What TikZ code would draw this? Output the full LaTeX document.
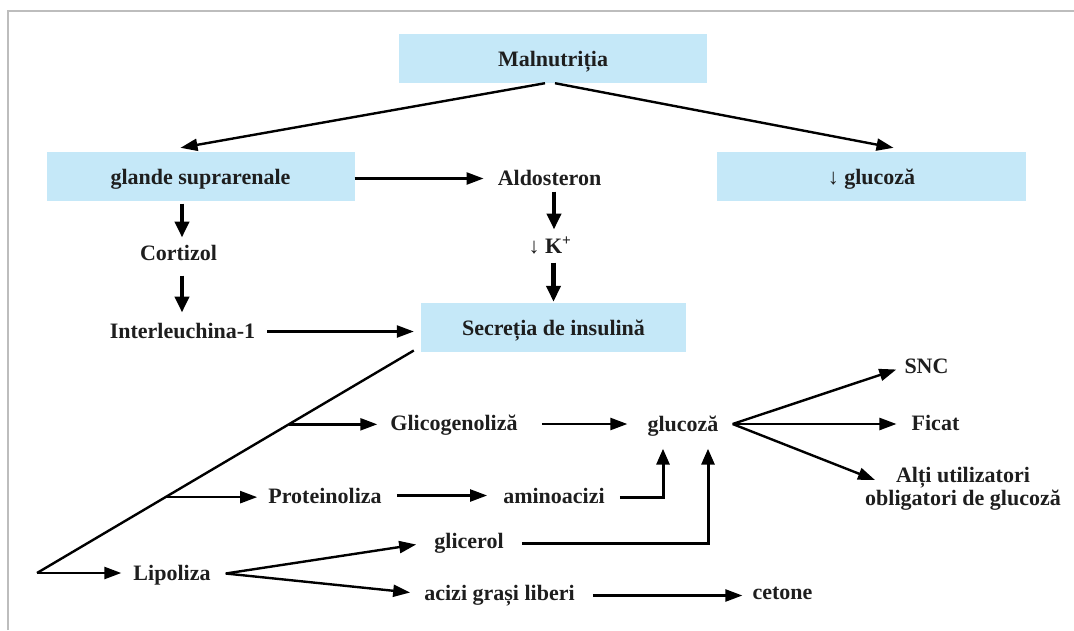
\documentclass[tikz,border=0pt]{standalone}
\usepackage{fontspec}
\setmainfont{Liberation Serif}
\usetikzlibrary{arrows.meta,calc}
\definecolor{boxblue}{HTML}{C5E8F8}
\definecolor{txt}{HTML}{1E1E1E}
\definecolor{framegray}{HTML}{BDBDBD}
\begin{document}
\begin{tikzpicture}[x=1pt,y=-1pt,
  box/.style={fill=boxblue, minimum height=49pt, inner sep=0pt, text=txt,
    text height=16pt, text depth=1pt,
    font=\fontsize{22}{25}\selectfont\bfseries},
  lbl/.style={inner sep=0pt, text=txt, text height=16pt, text depth=1pt,
    font=\fontsize{22}{25}\selectfont\bfseries},
  arr/.style={line width=2.4pt, -{Triangle[length=17pt,width=12pt]}},
  tarr/.style={line width=4.5pt, -{Triangle[length=16pt,width=14pt]}},
  marr/.style={line width=3pt, -{Triangle[length=16pt,width=13pt]}},
  ln/.style={line width=2.4pt}]
\useasboundingbox (0,0) rectangle (1074,630);
\draw[framegray, line width=2pt] (8,630) -- (8,11) -- (1074,11);

% boxes
\node[box, minimum width=308pt] (maln) at (553,58.5) {Malnutriția};
\node[box, minimum width=308pt] (gland) at (200.5,176.5) {glande suprarenale};
\node[box, minimum width=309pt] (gluc0) at (871.5,176.5) {↓ glucoză};
\node[box, minimum width=265pt] (secr) at (553.5,327.5) {Secreția de insulină};

% labels (centre = baseline - 7.5)
\node[lbl] (aldo) at (549.5,177.5) {Aldosteron};
\node[lbl] (kplus) at (550,245.5) {{\mdseries↓} K\textsuperscript{+}};
\node[lbl] (cort) at (178.5,252.5) {Cortizol};
\node[lbl] (inter) at (182.5,330.5) {Interleuchina-1};
\node[lbl] (glico) at (454,422.5) {Glicogenoliză};
\node[lbl] (prot) at (325,495.5) {Proteinoliza};
\node[lbl] (lipo) at (172,572.5) {Lipoliza};
\node[lbl] (amino) at (554,495.5) {aminoacizi};
\node[lbl] (glucoza) at (683,424) {glucoză};
\node[lbl] (glicer) at (469,540.5) {glicerol};
\node[lbl] (acizi) at (499.5,592.5) {acizi grași liberi};
\node[lbl] (cetone) at (782.5,591.5) {cetone};
\node[lbl] (snc) at (926.5,365.5) {SNC};
\node[lbl] (ficat) at (935.5,422.5) {Ficat};
\node[inner sep=0pt, text=txt, align=center, anchor=base,
  font=\fontsize{22}{20}\selectfont\bfseries] (alti) at (963,505)
  {Alți utilizatori\\obligatori de glucoză};

% top arrows
\draw[arr] ($(maln.south)+(-8,0)$) -- ($(gland.north)+(-20,-4)$);
\draw[arr] ($(maln.south)+(2,0)$) -- ($(gluc0.north)+(22,-4)$);
\coordinate (ga) at ($(gland.east)+(0,2)$);
\draw[arr] (ga) -- ($(ga -| aldo.west)+(-14,0)$);

% thick vertical arrows
\draw[tarr] ($(gland.south)+(-18.5,2.5)$) -- ($(cort)+(3.5,-15)$);
\draw[tarr] ($(cort)+(3.5,23)$) -- ($(inter)+(-0.5,-18)$);
\draw[tarr] ($(aldo)+(4.5,14)$) -- ($(kplus)+(4,-16)$);
\draw[tarr] ($(kplus)+(3.5,17)$) -- ($(secr.north)+(0,-1)$);

\coordinate (is) at ($(inter.east)+(12,1)$);
\draw[arr] (is) -- ($(is -| secr.west)+(-7,0)$);

% diagonal
\coordinate (dtop) at ($(secr.west)+(-7,23)$);
\coordinate (corner) at (37,573);
\draw[ln] (dtop) -- (corner);
\coordinate (b1) at ($(dtop)!0.3318!(corner)$);
\coordinate (b2) at ($(dtop)!0.659!(corner)$);
\draw[arr] (corner) -- ($(corner -| lipo.west)+(-12,0)$);
\draw[arr] (b1) -- ($(b1 -| glico.west)+(-13,0)$);
\draw[arr] (b2) -- ($(b2 -| prot.west)+(-11,0)$);

% middle
\coordinate (pa) at ($(prot.east)+(15,0)$);
\draw[arr] (pa) -- ($(pa -| amino.west)+(-16,0)$);
\coordinate (gg) at ($(glico.east)+(24,1.5)$);
\draw[arr] (gg) -- ($(gg -| glucoza.west)+(-20,0)$);
\draw[marr] ($(amino.east)+(15,1.5)$) -| ($(glucoza.south)+(-20,16)$);
\draw[marr] ($(glicer.east)+(18,2.5)$) -| ($(glucoza.south)+(25,16)$);

% lipoliza
\coordinate (lsplit) at ($(lipo.east)+(15,1)$);
\draw[arr] (lsplit) -- ($(glicer.west)+(-18,4)$);
\draw[arr] (lsplit) -- ($(acizi.west)+(-14,0)$);
\coordinate (ac) at ($(acizi.east)+(18,3)$);
\draw[arr] (ac) -- ($(ac -| cetone.west)+(-10,0)$);

% glucose outputs
\coordinate (gsplit) at ($(glucoza.east)+(14,0)$);
\draw[arr] (gsplit) -- ($(snc.west)+(-8,4)$);
\draw[arr] (gsplit) -- ($(gsplit -| ficat.west)+(-15,0)$);
\draw[arr] (gsplit) -- ($(alti.base)+(-88,-25)$);
\end{tikzpicture}
\end{document}
